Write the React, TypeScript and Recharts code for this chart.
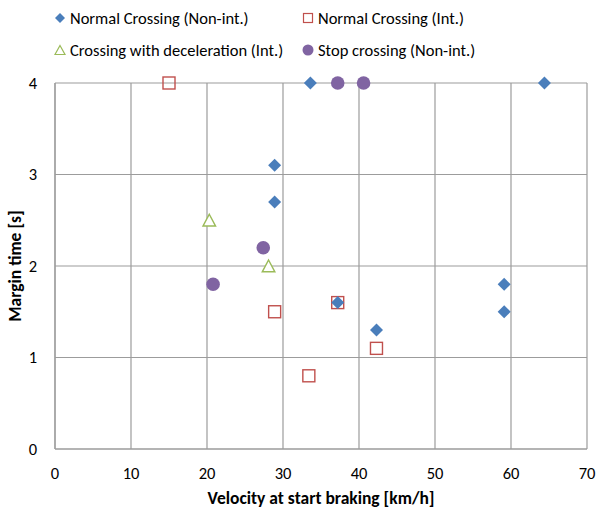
import React from "react";
import { ScatterChart, Scatter, XAxis, YAxis, CartesianGrid } from "recharts";

// velocity [km/h] vs margin time [s]
const normalNonIntVel = [33.6, 64.4, 28.9, 28.9, 59.1, 59.1, 37.2, 42.3];
const normalNonIntTime = [4.0, 4.0, 3.1, 2.7, 1.8, 1.5, 1.6, 1.3];

const normalIntVel = [15.0, 28.9, 37.2, 42.3, 33.4];
const normalIntTime = [4.0, 1.5, 1.6, 1.1, 0.8];

const decelIntVel = [20.3, 28.1];
const decelIntTime = [2.5, 2.0];

const stopNonIntVel = [37.2, 40.6, 27.4, 20.8];
const stopNonIntTime = [4.0, 4.0, 2.2, 1.8];

const xTicks = [0, 10, 20, 30, 40, 50, 60, 70];
const yTicks = [0, 1, 2, 3, 4];

const BLUE = "#4a7ebb";
const RED = "#c0504d";
const GREEN = "#9bbb59";
const PURPLE = "#8064a2";
const GRID = "#9c9c9c";
const FONT = "Carlito, Calibri, Lato, sans-serif";

const toPoints = (xs: number[], ys: number[]) => xs.map((x, i) => ({ x, y: ys[i] }));

const Diamond = ({ cx, cy }: any) => (
  <path d={`M${cx},${cy - 6.5} L${cx + 6.5},${cy} L${cx},${cy + 6.5} L${cx - 6.5},${cy} Z`} fill={BLUE} />
);
const Square = ({ cx, cy }: any) => (
  <rect x={cx - 6} y={cy - 6} width={12} height={12} fill="none" stroke={RED} strokeWidth={1.4} />
);
const Triangle = ({ cx, cy }: any) => (
  <path d={`M${cx},${cy - 6} L${cx + 6.3},${cy + 5.8} L${cx - 6.3},${cy + 5.8} Z`} fill="#fff" stroke={GREEN} strokeWidth={1.4} />
);
const Dot = ({ cx, cy }: any) => <circle cx={cx} cy={cy} r={6.8} fill={PURPLE} />;

const legendItems = [
  { label: "Normal Crossing (Non-int.)", left: 54, top: 9, icon: <path d="M6,1 L11,6 L6,11 L1,6 Z" fill={BLUE} /> },
  { label: "Normal Crossing (Int.)", left: 302, top: 9, icon: <rect x={1.5} y={1.5} width={9} height={9} fill="none" stroke={RED} strokeWidth={1.2} /> },
  { label: "Crossing with deceleration (Int.)", left: 54, top: 41, icon: <path d="M6,1.5 L11,10.5 L1,10.5 Z" fill="none" stroke={GREEN} strokeWidth={1.2} /> },
  { label: "Stop crossing (Non-int.)", left: 302, top: 41, icon: <circle cx={6} cy={6} r={5.5} fill={PURPLE} /> },
];

export default function App() {
  return (
    <div style={{ position: "absolute", left: 0, top: 0, width: 598, height: 514, background: "#fff", fontFamily: FONT }}>
      {legendItems.map((it) => (
        <div key={it.label} style={{ position: "absolute", left: it.left, top: it.top, display: "flex", alignItems: "center", fontSize: 16.5, color: "#000", whiteSpace: "nowrap", lineHeight: "18px" }}>
          <svg width={13} height={12} style={{ marginRight: 3 }}>{it.icon}</svg>
          {it.label}
        </div>
      ))}
      <ScatterChart width={598} height={514} margin={{ top: 83, right: 11, bottom: 0, left: 0 }}>
        <CartesianGrid stroke={GRID} strokeWidth={1.2} />
        <XAxis
          type="number"
          dataKey="x"
          domain={[0, 70]}
          ticks={xTicks}
          height={65}
          tickLine={false}
          axisLine={{ stroke: GRID, strokeWidth: 1.2 }}
          tickMargin={12}
          tick={{ fill: "#000", fontSize: 16.5, fontFamily: FONT }}
          label={{
            content: ({ viewBox }: any) => (
              <text x={viewBox.x + viewBox.width / 2} y={viewBox.y + 49} textAnchor="middle" dominantBaseline="central" fontSize={17.5} fontWeight="bold" fontFamily={FONT} fill="#000">
                Velocity at start braking [km/h]
              </text>
            ),
          }}
        />
        <YAxis
          type="number"
          dataKey="y"
          domain={[0, 4]}
          ticks={yTicks}
          width={55}
          tickLine={false}
          axisLine={{ stroke: GRID, strokeWidth: 1.2 }}
          tickMargin={12}
          tick={{ fill: "#000", fontSize: 16.5, fontFamily: FONT }}
          label={{
            content: ({ viewBox }: any) => {
              const x = viewBox.x + 15;
              const y = viewBox.y + viewBox.height / 2;
              return (
                <text x={x} y={y} transform={`rotate(-90 ${x} ${y})`} textAnchor="middle" dominantBaseline="central" fontSize={17.5} fontWeight="bold" fontFamily={FONT} fill="#000">
                  Margin time [s]
                </text>
              );
            },
          }}
        />
        <Scatter name="Normal Crossing (Int.)" data={toPoints(normalIntVel, normalIntTime)} shape={Square} isAnimationActive={false} />
        <Scatter name="Normal Crossing (Non-int.)" data={toPoints(normalNonIntVel, normalNonIntTime)} shape={Diamond} isAnimationActive={false} />
        <Scatter name="Crossing with deceleration (Int.)" data={toPoints(decelIntVel, decelIntTime)} shape={Triangle} isAnimationActive={false} />
        <Scatter name="Stop crossing (Non-int.)" data={toPoints(stopNonIntVel, stopNonIntTime)} shape={Dot} isAnimationActive={false} />
      </ScatterChart>
    </div>
  );
}
